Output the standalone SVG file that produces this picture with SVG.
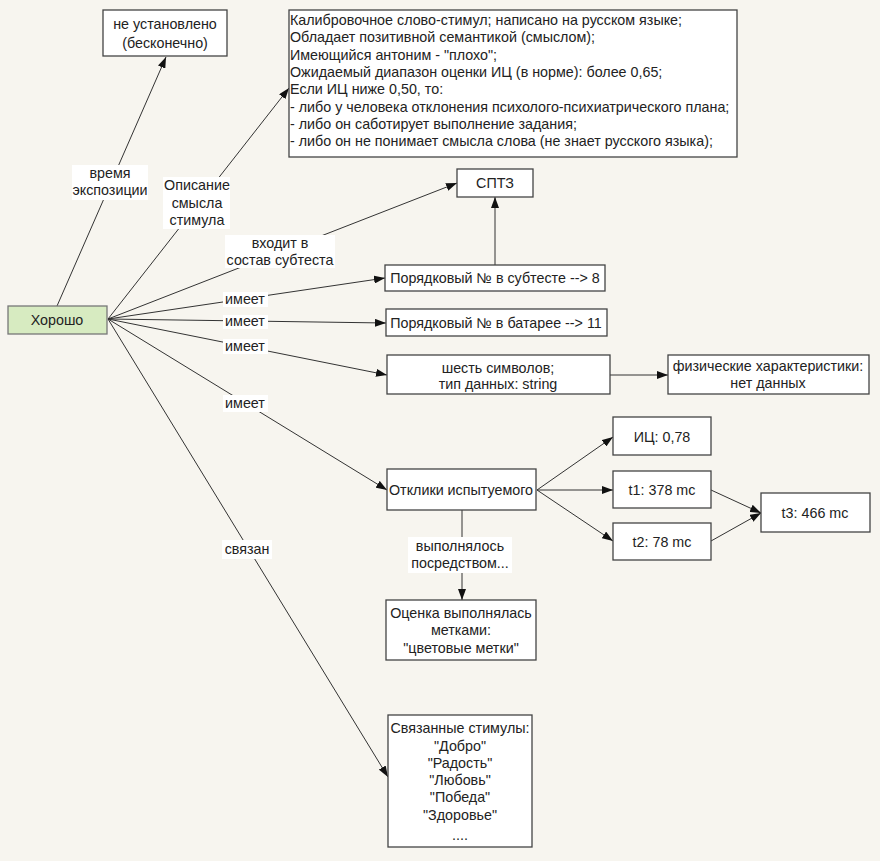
<svg xmlns="http://www.w3.org/2000/svg" width="880" height="861" viewBox="0 0 880 861">
<defs>
<style>
text{font-family:"Liberation Sans",Arial,sans-serif;font-size:14.3px;fill:#222}
.c{text-anchor:middle}
.box{fill:#fff;stroke:#444;stroke-width:1.3}
.root{fill:#d7ebc1;stroke:#777;stroke-width:1.3}
.ln{stroke:#333;stroke-width:1;fill:none}
.arr{marker-end:url(#ah)}
.lb{fill:#fff;stroke:none}
</style>
<marker id="ah" markerUnits="userSpaceOnUse" markerWidth="11" markerHeight="8" refX="11" refY="4" orient="auto">
<path d="M0,0 L11,4 L0,8 z" fill="#111"/>
</marker>
</defs>
<rect width="880" height="861" fill="#f7f5ef"/>

<g id="connectors">
<line class="ln arr" x1="57" y1="306" x2="166" y2="57"/>
<line class="ln arr" x1="108" y1="319" x2="289" y2="88"/>
<line class="ln arr" x1="108" y1="319" x2="457" y2="183"/>
<line class="ln arr" x1="108" y1="319" x2="385" y2="278"/>
<line class="ln arr" x1="108" y1="319" x2="386" y2="323"/>
<line class="ln arr" x1="108" y1="319" x2="387" y2="375"/>
<line class="ln arr" x1="108" y1="319" x2="387" y2="490"/>
<line class="ln arr" x1="108" y1="319" x2="388" y2="777"/>
<line class="ln arr" x1="495" y1="265" x2="495" y2="197"/>
<line class="ln arr" x1="610" y1="375" x2="668" y2="375"/>
<line class="ln arr" x1="537" y1="490" x2="613" y2="437"/>
<line class="ln arr" x1="537" y1="490" x2="613" y2="490"/>
<line class="ln arr" x1="537" y1="490" x2="613" y2="541"/>
<line class="ln arr" x1="711" y1="490" x2="761" y2="513"/>
<line class="ln arr" x1="711" y1="541" x2="761" y2="513"/>
<line class="ln arr" x1="462" y1="510" x2="462" y2="600"/>

<rect class="lb" x="72" y="165" width="76" height="35"/>
<text class="c" x="110" y="178">время</text>
<text class="c" x="110" y="195">экспозиции</text>

<rect class="lb" x="163" y="177" width="67" height="52"/>
<text class="c" x="197" y="190">Описание</text>
<text class="c" x="197" y="208">смысла</text>
<text class="c" x="197" y="225">стимула</text>

<rect class="lb" x="225" y="235" width="110" height="33"/>
<text class="c" x="280" y="248">входит в</text>
<text class="c" x="280" y="265">состав субтеста</text>

<rect class="lb" x="223" y="292" width="45" height="15"/>
<text class="c" x="245" y="304">имеет</text>
<rect class="lb" x="223" y="315" width="45" height="14"/>
<text class="c" x="245" y="326">имеет</text>
<rect class="lb" x="223" y="339" width="45" height="15"/>
<text class="c" x="245" y="351">имеет</text>
<rect class="lb" x="223" y="395" width="45" height="17"/>
<text class="c" x="245" y="408">имеет</text>
<rect class="lb" x="222" y="540" width="50" height="19"/>
<text class="c" x="247" y="554">связан</text>

<rect class="lb" x="408" y="537" width="104" height="36"/>
<text class="c" x="460" y="551">выполнялось</text>
<text class="c" x="460" y="568">посредством...</text>
</g>

<g id="node-root">
<rect class="root" x="8" y="306" width="99" height="28"/>
<text class="c" x="57" y="325">Хорошо</text>
</g>

<g id="node-exposure">
<rect class="box" x="103" y="10" width="124" height="46"/>
<text class="c" x="165" y="29">не установлено</text>
<text class="c" x="165" y="48">(бесконечно)</text>
</g>

<g id="node-description">
<rect class="box" x="289" y="10" width="448" height="147"/>
<text x="290" y="25">Калибровочное слово-стимул; написано на русском языке;</text>
<text x="290" y="42.3">Обладает позитивной семантикой (смыслом);</text>
<text x="290" y="59.6">Имеющийся антоним - "плохо";</text>
<text x="290" y="76.9">Ожидаемый диапазон оценки ИЦ (в норме): более 0,65;</text>
<text x="290" y="94.2">Если ИЦ ниже 0,50, то:</text>
<text x="290" y="111.5">- либо у человека отклонения психолого-психиатрического плана;</text>
<text x="290" y="128.8">- либо он саботирует выполнение задания;</text>
<text x="290" y="146.1">- либо он не понимает смысла слова (не знает русского языка);</text>
</g>

<g id="node-sptz">
<rect class="box" x="457" y="169" width="76" height="28"/>
<text class="c" x="495" y="188">СПТЗ</text>
</g>

<g id="node-subtest">
<rect class="box" x="385" y="265" width="220" height="26"/>
<text class="c" x="495" y="283">Порядковый № в субтесте --&gt; 8</text>
</g>

<g id="node-battery">
<rect class="box" x="386" y="309" width="221" height="27"/>
<text class="c" x="496" y="328">Порядковый № в батарее --&gt; 11</text>
</g>

<g id="node-symbols">
<rect class="box" x="387" y="355" width="223" height="39"/>
<text class="c" x="498" y="373">шесть символов;</text>
<text class="c" x="498" y="389">тип данных: string</text>
</g>

<g id="node-physical">
<rect class="box" x="668" y="355" width="201" height="39"/>
<text class="c" x="768" y="371">физические характеристики:</text>
<text class="c" x="768" y="388">нет данных</text>
</g>

<g id="node-responses">
<rect class="box" x="387" y="469" width="149" height="41"/>
<text class="c" x="461" y="495">Отклики испытуемого</text>
</g>

<g id="node-ic">
<rect class="box" x="613" y="417" width="98" height="38"/>
<text class="c" x="662" y="442">ИЦ: 0,78</text>
</g>

<g id="node-t1">
<rect class="box" x="613" y="471" width="98" height="37"/>
<text class="c" x="662" y="495">t1: 378 mc</text>
</g>

<g id="node-t2">
<rect class="box" x="613" y="523" width="98" height="37"/>
<text class="c" x="662" y="547">t2: 78 mc</text>
</g>

<g id="node-t3">
<rect class="box" x="761" y="493" width="109" height="39"/>
<text class="c" x="815" y="518">t3: 466 mc</text>
</g>

<g id="node-rating">
<rect class="box" x="386" y="600" width="150" height="60"/>
<text class="c" x="461" y="618">Оценка выполнялась</text>
<text class="c" x="461" y="635">метками:</text>
<text class="c" x="461" y="653">"цветовые метки"</text>
</g>

<g id="node-related">
<rect class="box" x="388" y="715" width="144" height="132"/>
<text class="c" x="460" y="733">Связанные стимулы:</text>
<text class="c" x="460" y="751">"Добро"</text>
<text class="c" x="460" y="768">"Радость"</text>
<text class="c" x="460" y="785">"Любовь"</text>
<text class="c" x="460" y="802">"Победа"</text>
<text class="c" x="460" y="820">"Здоровье"</text>
<text class="c" x="460" y="840">....</text>
</g>
</svg>
